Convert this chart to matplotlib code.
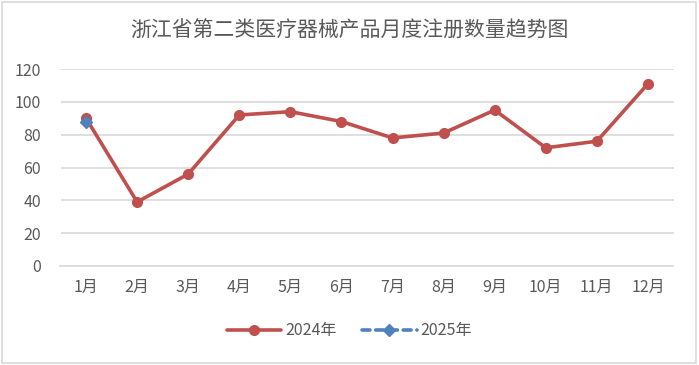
import matplotlib
matplotlib.use("Agg")
import matplotlib.pyplot as plt
from matplotlib.patches import Rectangle

plt.rcParams['font.family'] = ['Noto Sans CJK SC', 'DejaVu Sans']

months = ["1月", "2月", "3月", "4月", "5月", "6月", "7月", "8月", "9月", "10月", "11月", "12月"]
values_2024 = [90, 39, 56, 92, 94, 88, 78, 81, 95, 72, 76, 111]
values_2025 = [88]
title = "浙江省第二类医疗器械产品月度注册数量趋势图"

red = "#C0504D"
blue = "#4F81BD"
grey = "#595959"

fig = plt.figure(figsize=(6.99, 3.65), dpi=100)
ax = fig.add_axes([60.5 / 699, 1 - 266 / 365, 613 / 699, 197 / 365])

x = list(range(len(months)))
ax.plot(x, values_2024, color=red, lw=2.6, marker="o", ms=7, label="2024年",
        solid_capstyle="round", zorder=3)
ax.plot(x[:len(values_2025)], values_2025, color=blue, lw=2.6, ls=(0, (2.2, 1.6)),
        dash_capstyle="round", marker="D", ms=6, label="2025年", zorder=4)

ax.set_xlim(-0.5, len(months) - 0.5)
ax.set_ylim(0, 120)
ax.set_yticks(range(0, 121, 20))
ax.set_xticks(x)
ax.set_xticklabels(months)
ax.grid(axis="y", color="#D9D9D9", lw=1.2)
ax.set_axisbelow(True)
for s in ["top", "right", "left"]:
    ax.spines[s].set_visible(False)
ax.spines["bottom"].set_color("#D9D9D9")
ax.spines["bottom"].set_linewidth(1.2)
ax.tick_params(axis="both", length=0, colors=grey, labelsize=11.5)
ax.tick_params(axis="y", pad=14)
ax.tick_params(axis="x", pad=9)

fig.text(0.5, 1 - 31 / 365, title, ha="center", va="center", fontsize=15,
         color=grey)

leg = fig.legend(loc="center", bbox_to_anchor=(0.5, 1 - 331 / 365), ncol=2, frameon=False,
                 fontsize=11.5, handlelength=3.4, columnspacing=1.6, handletextpad=0.25)
for t in leg.get_texts():
    t.set_color(grey)

fig.patches.append(Rectangle((2 / 699, 2 / 365), 694 / 699, 361 / 365, transform=fig.transFigure,
                             fill=False, edgecolor="#D9D9D9", lw=1.2))

fig.savefig("out.png", dpi=100)
